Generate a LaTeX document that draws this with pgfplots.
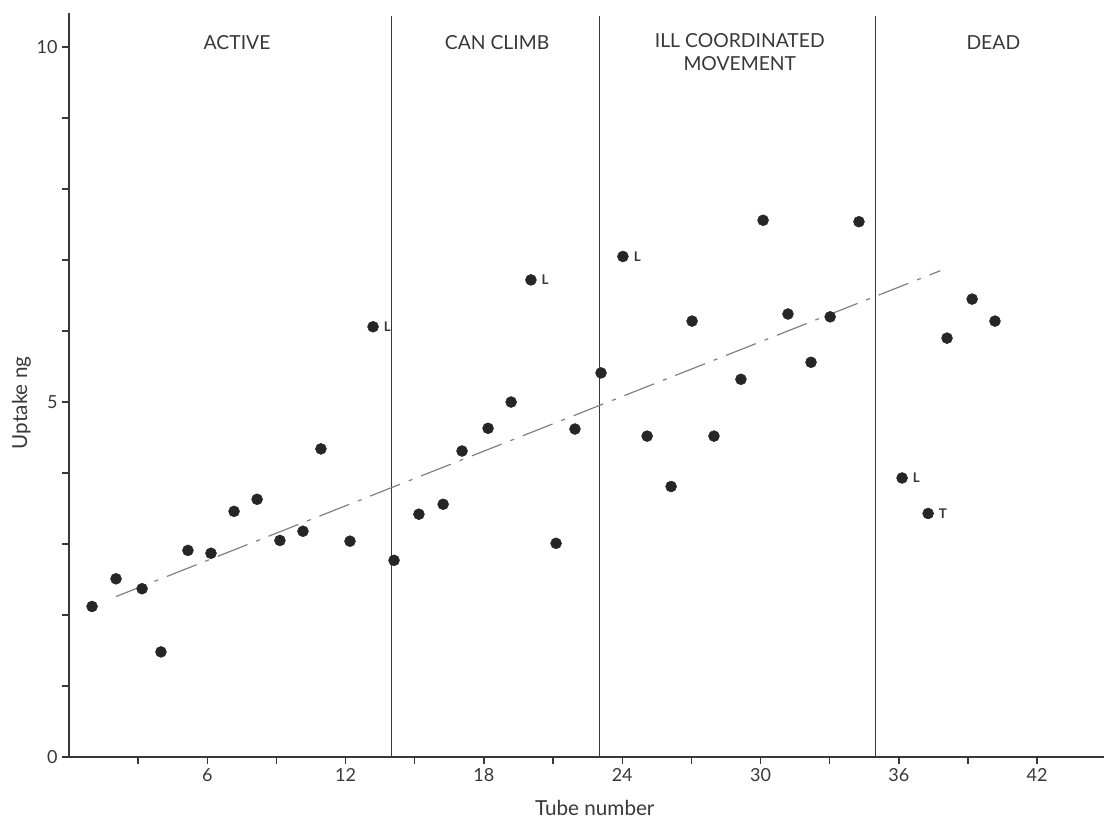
\documentclass[border=0pt]{standalone}
\usepackage{pgfplots}
\pgfplotsset{compat=1.18}
\usepackage{fontspec}
\setmainfont{Lato}
\definecolor{ink}{gray}{0.22}
\pgfplotstableread{
x y
1.0 2.12
2.04 2.51
3.17 2.37
3.99 1.48
5.16 2.91
6.16 2.87
7.16 3.46
8.16 3.63
9.15 3.05
10.15 3.18
10.93 4.34
12.19 3.04
13.19 6.06
14.1 2.77
15.18 3.42
16.23 3.56
17.05 4.31
18.18 4.63
19.18 5.00
20.04 6.72
21.13 3.01
21.95 4.62
23.08 5.41
24.03 7.05
25.08 4.52
26.12 3.81
27.03 6.14
27.98 4.52
29.15 5.32
30.11 7.56
31.19 6.24
32.19 5.56
33.02 6.20
34.27 7.54
36.14 3.93
37.27 3.43
38.09 5.90
39.18 6.45
40.17 6.14
}\pts
\begin{document}
\begin{tikzpicture}
\useasboundingbox (0,0) rectangle (828pt,615pt);
\begin{axis}[
  at={(51.75pt,47.25pt)}, anchor=south west,
  scale only axis, width=776.25pt, height=558pt,
  xmin=0, xmax=44.9, ymin=0, ymax=10.48,
  axis x line*=bottom, axis y line*=left,
  axis line style={ink, line width=0.9pt, -},
  xtick={3,6,9,12,15,18,21,24,27,30,33,36,39,42},
  xticklabels={,6,,12,,18,,24,,30,,36,,42},
  ytick={0,1,2,3,4,5,6,7,8,9,10},
  yticklabels={0,,,,,5,,,,,10},
  tick align=outside, major tick length=5pt,
  tick style={ink, line width=1pt},
  /pgf/number format/assume math mode=true,
  ticklabel style={font=\fontsize{13.5}{15}\selectfont, text=ink},
  xlabel={Tube number}, ylabel={Uptake ng},
  label style={font=\fontsize{15.5}{17}\selectfont, text=ink},
  xlabel style={at={(axis description cs:0.508,0)}, anchor=north, yshift=-29pt},
  ylabel style={at={(axis description cs:0,0.476)}, anchor=south, yshift=25pt},
  clip=false,
]
% region dividers
\addplot[ink, line width=0.8pt] coordinates {(14,0) (14,10.44)};
\addplot[ink, line width=0.8pt] coordinates {(23,0) (23,10.44)};
\addplot[ink, line width=0.8pt] coordinates {(35,0) (35,10.44)};
% trend line
\addplot[gray, line width=0.9pt, dash pattern=on 24pt off 7pt on 3pt off 7pt] coordinates {(2.04,2.26) (37.8,6.85)};
% data
\addplot[only marks, mark=*, mark size=4.1pt, mark options={fill=black!85, draw=black!85}] table[x=x,y=y] {\pts};
% labels
\node[font=\fontsize{10}{11}\selectfont\bfseries, text=ink, anchor=west] at (axis cs:13.45,6.06) {L};
\node[font=\fontsize{10}{11}\selectfont\bfseries, text=ink, anchor=west] at (axis cs:20.3,6.72) {L};
\node[font=\fontsize{10}{11}\selectfont\bfseries, text=ink, anchor=west] at (axis cs:24.3,7.05) {L};
\node[font=\fontsize{10}{11}\selectfont\bfseries, text=ink, anchor=west] at (axis cs:36.4,3.93) {L};
\node[font=\fontsize{10}{11}\selectfont\bfseries, text=ink, anchor=west] at (axis cs:37.53,3.43) {T};
\node[font=\fontsize{14.5}{17}\selectfont, text=ink] at (axis cs:7.29,10.06) {ACTIVE};
\node[font=\fontsize{14.5}{17}\selectfont, text=ink] at (axis cs:18.57,10.06) {CAN CLIMB};
\node[font=\fontsize{14.5}{17}\selectfont, text=ink, align=center] at (axis cs:29.1,9.93) {ILL COORDINATED\\MOVEMENT};
\node[font=\fontsize{14.5}{17}\selectfont, text=ink] at (axis cs:40.1,10.06) {DEAD};
\end{axis}
\end{tikzpicture}
\end{document}
